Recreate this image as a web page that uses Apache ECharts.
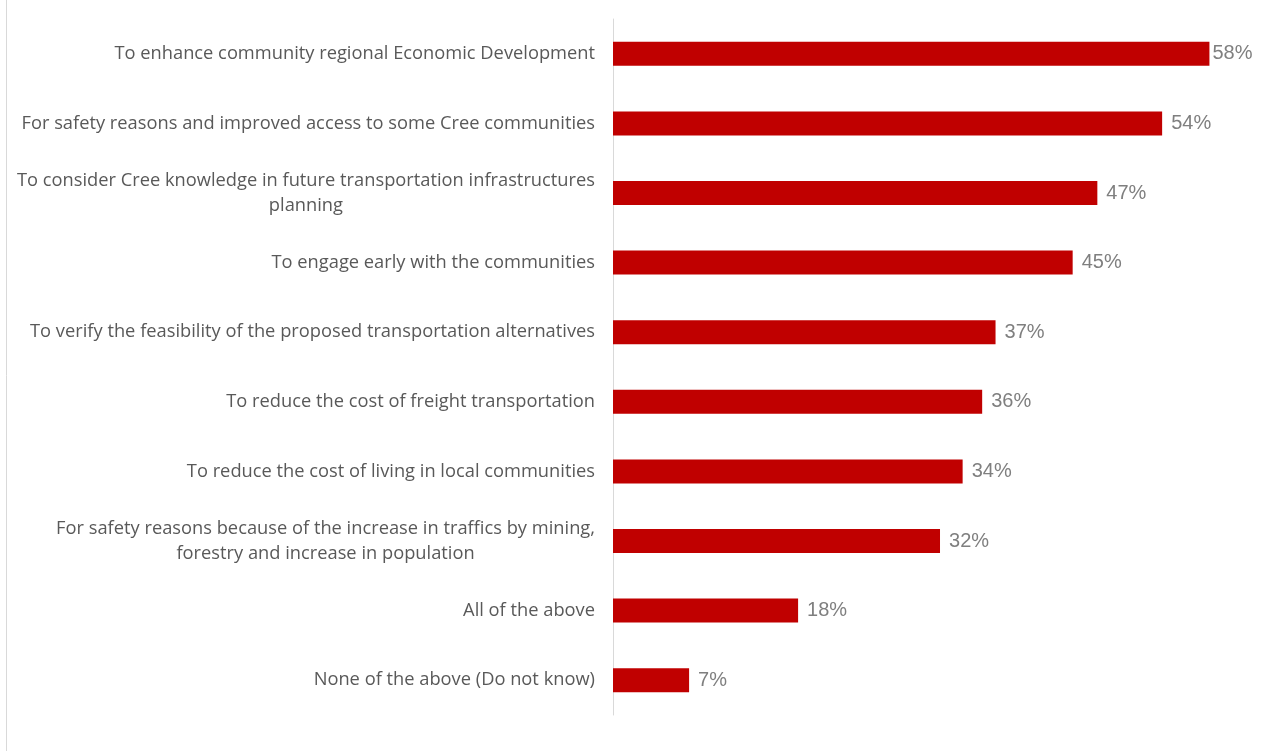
<!DOCTYPE html>
<html>
<head>
<meta charset="utf-8">
<script src="https://cdn.jsdelivr.net/npm/echarts@6/dist/echarts.min.js"></script>
<style>
html,body{margin:0;padding:0;background:#fff;}
#c{width:1262px;height:751px;}
</style>
</head>
<body>
<div id="c"></div>
<script>
const categories = [
  "To enhance community regional Economic Development",
  "For safety reasons and improved access to some Cree communities",
  "To consider Cree knowledge in future transportation infrastructures\nplanning",
  "To engage early with the communities",
  "To verify the feasibility of the proposed transportation alternatives",
  "To reduce the cost of freight transportation",
  "To reduce the cost of living in local communities",
  "For safety reasons because of the increase in traffics by mining,\nforestry and increase in population",
  "All of the above",
  "None of the above (Do not know)"
];
const values = [58.0, 53.4, 47.1, 44.7, 37.2, 35.9, 34.0, 31.8, 18.0, 7.4];
const valueLabels = ["58%", "54%", "47%", "45%", "37%", "36%", "34%", "32%", "18%", "7%"];

const chart = echarts.init(document.getElementById('c'), null, {renderer: 'canvas'});
chart.setOption({
  animation: false,
  backgroundColor: '#ffffff',
  grid: {left: 613, top: 19, bottom: 36, right: 32, containLabel: false},
  xAxis: {
    type: 'value', min: 0, max: 60, show: false
  },
  yAxis: {
    type: 'category',
    inverse: true,
    data: categories,
    axisLine: {show: true, lineStyle: {color: '#d9d9d9', width: 1}},
    axisTick: {show: false},
    axisLabel: {
      margin: 18,
      align: 'right',
      formatter: function (v) {
        return v.split('\n').map(function (s) { return '{c|' + s + '}'; }).join('\n');
      },
      rich: {
        c: {
          align: 'center',
          fontFamily: 'Open Sans',
          fontSize: 18.3,
          color: '#595959',
          lineHeight: 25
        }
      }
    }
  },
  series: [{
    type: 'bar',
    barWidth: 24,
    itemStyle: {color: '#c00000'},
    data: values.map(function (v, i) {
      return i === 0 ? {value: v, label: {distance: 3}} : v;
    }),
    label: {
      show: true,
      position: 'right',
      distance: 9,
      fontFamily: 'Liberation Sans',
      fontSize: 20,
      color: '#7f7f7f',
      formatter: function (p) { return valueLabels[p.dataIndex]; }
    }
  }],
  graphic: [{
    type: 'line',
    shape: {x1: 6.5, y1: 0, x2: 6.5, y2: 751},
    style: {stroke: '#d9d9d9', lineWidth: 1}
  }]
});
</script>
</body>
</html>
